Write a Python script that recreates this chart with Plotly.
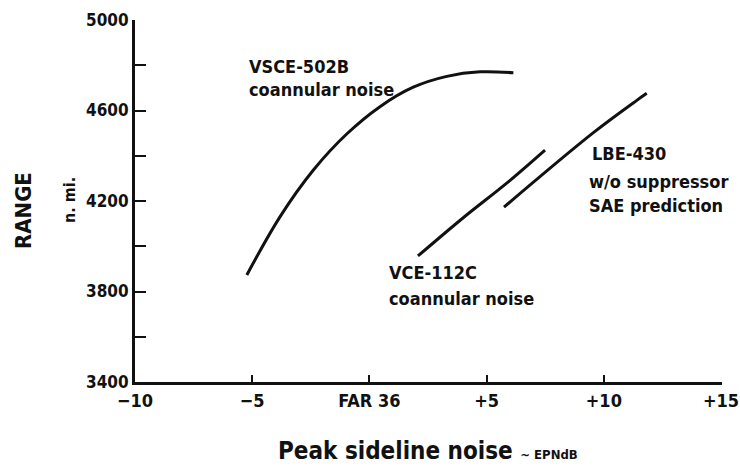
import plotly.graph_objects as go

# Range vs peak sideline noise for three engine concepts
vsce_x = [-5.23, -3.81, -2.39, -0.97, 0.45, 1.87, 3.30, 4.72, 6.14]
vsce_y = [3873, 4131, 4337, 4496, 4617, 4703, 4751, 4771, 4767]

vce_x = [2.07, 3.99, 5.87, 7.49]
vce_y = [3957, 4125, 4280, 4425]

lbe_x = [5.74, 9.54, 11.42, 11.83]
lbe_y = [4173, 4501, 4646, 4676]

x_tickvals = [-10, -5, 0, 5, 10, 15]
x_ticktext = ["\u221210", "\u22125", "FAR 36", "+5", "+10", "+15"]
y_tickvals = [3400, 3600, 3800, 4000, 4200, 4400, 4600, 4800, 5000]
y_ticktext = ["3400", "", "3800", "", "4200", "", "4600", "", "5000"]

FONT = "DejaVu Sans Condensed, Liberation Sans Narrow, DejaVu Sans, sans-serif"
INK = "#111111"

W, H = 740, 466
L, R, T, B = 135, 18, 20, 84


def paper_x(px):
    return (px - L) / (W - L - R)


def paper_y(py):
    return (H - B - py) / (H - T - B)


fig = go.Figure()
for xs, ys in [(vsce_x, vsce_y), (vce_x, vce_y), (lbe_x, lbe_y)]:
    fig.add_trace(go.Scatter(x=xs, y=ys, mode="lines",
                             line=dict(color=INK, width=3, shape="spline", smoothing=1.0),
                             showlegend=False, hoverinfo="skip"))

labels = [
    ("VSCE-502B", -5.22, 4794),
    ("coannular noise", -5.22, 4695),
    ("VCE-112C", 0.75, 3884),
    ("coannular noise", 0.75, 3767),
    ("LBE-430", 9.41, 4408),
    ("w/o suppressor", 9.28, 4288),
    ("SAE prediction", 9.28, 4182),
]
for text, x, y in labels:
    fig.add_annotation(x=x, y=y, xref="x", yref="y", text=text, showarrow=False,
                       xanchor="left", yanchor="middle",
                       font=dict(family=FONT, size=18, color=INK, weight="bold"))

# rotated y-axis title and unit
fig.add_annotation(x=paper_x(23), y=paper_y(211), xref="paper", yref="paper",
                   text="RANGE", showarrow=False, textangle=-90,
                   xanchor="center", yanchor="middle",
                   font=dict(family=FONT, size=22, color=INK, weight="bold"))
fig.add_annotation(x=paper_x(70), y=paper_y(200), xref="paper", yref="paper",
                   text="n. mi.", showarrow=False, textangle=-90,
                   xanchor="center", yanchor="middle",
                   font=dict(family=FONT, size=16, color=INK, weight="bold"))

# x-axis title
fig.add_annotation(x=paper_x(276), y=paper_y(451), xref="paper", yref="paper",
                   text="Peak sideline noise <span style='font-size:13px'>~ EPNdB</span>",
                   showarrow=False, xanchor="left", yanchor="middle",
                   font=dict(family=FONT, size=24, color=INK, weight="bold"))

fig.update_layout(
    width=W, height=H,
    margin=dict(l=L, r=R, t=T, b=B),
    paper_bgcolor="white", plot_bgcolor="white",
    font=dict(family=FONT, color=INK),
)
fig.update_xaxes(range=[-10, 15.04], tickvals=x_tickvals, ticktext=x_ticktext,
                 automargin=False,
                 showgrid=False, zeroline=False, showline=True, linecolor=INK, linewidth=3,
                 ticks="inside", ticklen=7, tickwidth=2, tickcolor=INK,
                 tickfont=dict(family=FONT, size=18, color=INK, weight="bold"))
fig.update_yaxes(range=[3400, 5000], tickvals=y_tickvals, ticktext=y_ticktext,
                 automargin=False,
                 showgrid=False, zeroline=False, showline=True, linecolor=INK, linewidth=3,
                 ticks="inside", ticklen=11, tickwidth=2, tickcolor=INK,
                 tickfont=dict(family=FONT, size=17, color=INK, weight="bold"))

fig.write_html("out.html")
